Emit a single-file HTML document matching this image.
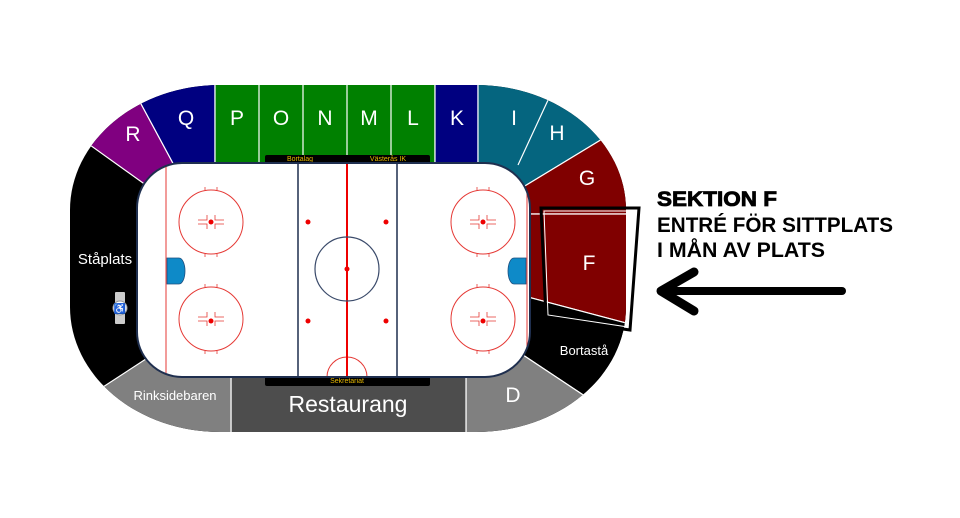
<!DOCTYPE html>
<html><head><meta charset="utf-8"><style>html,body{margin:0;padding:0;background:#fff}svg{display:block}</style></head>
<body>
<svg width="960" height="518" viewBox="0 0 960 518" xmlns="http://www.w3.org/2000/svg" font-family="Liberation Sans, Arial, sans-serif">
<defs>
<clipPath id="st"><rect x="70" y="85" width="556" height="347" rx="150" ry="125"/></clipPath>
<clipPath id="rk"><rect x="137" y="163" width="393" height="214" rx="45"/></clipPath>
</defs>
<g clip-path="url(#st)" stroke="#fff" stroke-width="1.2">
<rect x="60" y="75" width="580" height="370" fill="#000"/>
<polygon points="60,75 120,60 140,102 175,167 150,188 90,145 40,130" fill="#800080"/>
<polygon points="120,60 215,60 215,163 175,167 140,102" fill="#000080"/>
<rect x="215" y="60" width="220" height="103" fill="#008000"/>
<line x1="259" y1="60" x2="259" y2="163"/><line x1="303" y1="60" x2="303" y2="163"/><line x1="347" y1="60" x2="347" y2="163"/><line x1="391" y1="60" x2="391" y2="163"/>
<rect x="435" y="60" width="43" height="103" fill="#000080"/>
<polygon points="478,60 660,60 660,104 505,198 478,198" fill="#05657f"/>
<line x1="518" y1="165" x2="555" y2="85"/>
<polygon points="505,198 660,104 660,214 505,214" fill="#800000"/>
<polygon points="505,214 660,214 660,332 505,291" fill="#800000"/>
<polygon points="505,291 660,332 660,446 505,343" fill="#000"/>
<polygon points="505,343 660,446 466,446 466,340" fill="#808080"/>
<rect x="231" y="377" width="235" height="68" fill="#4d4d4d"/>
<polygon points="60,445 231,445 231,377 152,355 103,387 60,400" fill="#808080"/>
</g>
<!-- benches -->
<rect x="265" y="155" width="165" height="9" rx="2" fill="#000"/>
<rect x="265" y="376" width="165" height="10" rx="2" fill="#000"/>
<text x="300" y="161" font-size="7" fill="#e6b800" text-anchor="middle">Bortalag</text>
<text x="388" y="161" font-size="7" fill="#e6b800" text-anchor="middle">Västerås IK</text>
<text x="347" y="383" font-size="7" fill="#e6b800" text-anchor="middle">Sekretariat</text>
<!-- rink -->
<rect x="137" y="163" width="393" height="214" rx="45" fill="#fff"/>
<g clip-path="url(#rk)">
<g fill="none" stroke="#e53935" stroke-width="1">
<line x1="166" y1="164" x2="166" y2="376"/><line x1="527" y1="164" x2="527" y2="376"/>
<circle cx="211" cy="222" r="32"/><circle cx="211" cy="319" r="32"/>
<circle cx="483" cy="222" r="32"/><circle cx="483" cy="319" r="32"/>
<path d="M327,377 A20,20 0 0 1 367,377"/>
<g stroke-width="0.8">
<path d="M205,187v3M217,187v3M205,254v3M217,254v3M205,284v3M217,284v3M205,351v3M217,351v3M477,187v3M489,187v3M477,254v3M489,254v3M477,284v3M489,284v3M477,351v3M489,351v3"/>
<path d="M198,220h9v-5M198,224h9v5M224,220h-9v-5M224,224h-9v5"/>
<path d="M198,317h9v-5M198,321h9v5M224,317h-9v-5M224,321h-9v5"/>
<path d="M470,220h9v-5M470,224h9v5M496,220h-9v-5M496,224h-9v5"/>
<path d="M470,317h9v-5M470,321h9v5M496,317h-9v-5M496,321h-9v5"/>
</g>
</g>
<line x1="347" y1="164" x2="347" y2="376" stroke="#e00" stroke-width="2"/>
<line x1="298" y1="164" x2="298" y2="376" stroke="#1f2f4f" stroke-width="1.5"/>
<line x1="397" y1="164" x2="397" y2="376" stroke="#1f2f4f" stroke-width="1.5"/>
</g>
<rect x="137" y="163" width="393" height="214" rx="45" fill="none" stroke="#1f2f4f" stroke-width="2"/>
<circle cx="347" cy="269" r="32" fill="none" stroke="#3a4a6a" stroke-width="1.2"/>
<g fill="#e00">
<circle cx="347" cy="269" r="2.5"/><circle cx="211" cy="222" r="2.5"/><circle cx="211" cy="321" r="2.5"/><circle cx="483" cy="222" r="2.5"/><circle cx="483" cy="321" r="2.5"/>
<circle cx="308" cy="222" r="2.5"/><circle cx="308" cy="321" r="2.5"/><circle cx="386" cy="222" r="2.5"/><circle cx="386" cy="321" r="2.5"/>
</g>
<path d="M167,258h12a6,13 0 0 1 0,26h-12z" fill="#0e8ac8" stroke="#1f4f7f" stroke-width="0.8"/>
<path d="M526,258h-12a6,13 0 0 0 0,26h12z" fill="#0e8ac8" stroke="#1f4f7f" stroke-width="0.8"/>
<!-- wheelchair -->
<rect x="115" y="292" width="10" height="32" rx="1" fill="#ccc"/>
<circle cx="120" cy="308" r="7" fill="#fff" stroke="#999"/>
<text x="120" y="312" font-size="10" text-anchor="middle" fill="#345">♿</text>
<!-- F frame -->
<polygon points="541,208 639,208 630,330 546,318" fill="none" stroke="#000" stroke-width="3"/>
<polygon points="544,211 636,211 628,327 548,315" fill="none" stroke="#fff" stroke-width="1"/>
<!-- labels -->
<g fill="#fff" font-size="21" text-anchor="middle">
<text x="133" y="141">R</text><text x="186" y="125">Q</text><text x="237" y="125">P</text><text x="281" y="125">O</text><text x="325" y="125">N</text><text x="369" y="125">M</text><text x="413" y="125">L</text><text x="457" y="125">K</text><text x="514" y="125">I</text><text x="557" y="140">H</text><text x="587" y="185">G</text><text x="589" y="270">F</text><text x="513" y="402">D</text>
<text x="105" y="264" font-size="15">Ståplats</text>
<text x="175" y="400" font-size="13">Rinksidebaren</text>
<text x="584" y="355" font-size="13">Bortastå</text>
<text x="348" y="412" font-size="23">Restaurang</text>
</g>
<g font-weight="bold" fill="#000">
<text x="657" y="206" font-size="21" textLength="120" lengthAdjust="spacingAndGlyphs" stroke="#000" stroke-width="0.8">SEKTION F</text>
<text x="657" y="232" font-size="21" textLength="236" lengthAdjust="spacingAndGlyphs">ENTRÉ FÖR SITTPLATS</text>
<text x="657" y="257" font-size="21" textLength="168" lengthAdjust="spacingAndGlyphs">I MÅN AV PLATS</text>
</g>
<g stroke="#000" stroke-linecap="round" stroke-linejoin="round" fill="none">
<line x1="662" y1="291" x2="842" y2="291" stroke-width="8"/>
<polyline points="694,272 661,291 694,311" stroke-width="9"/>
</g>
</svg>
</body></html>
